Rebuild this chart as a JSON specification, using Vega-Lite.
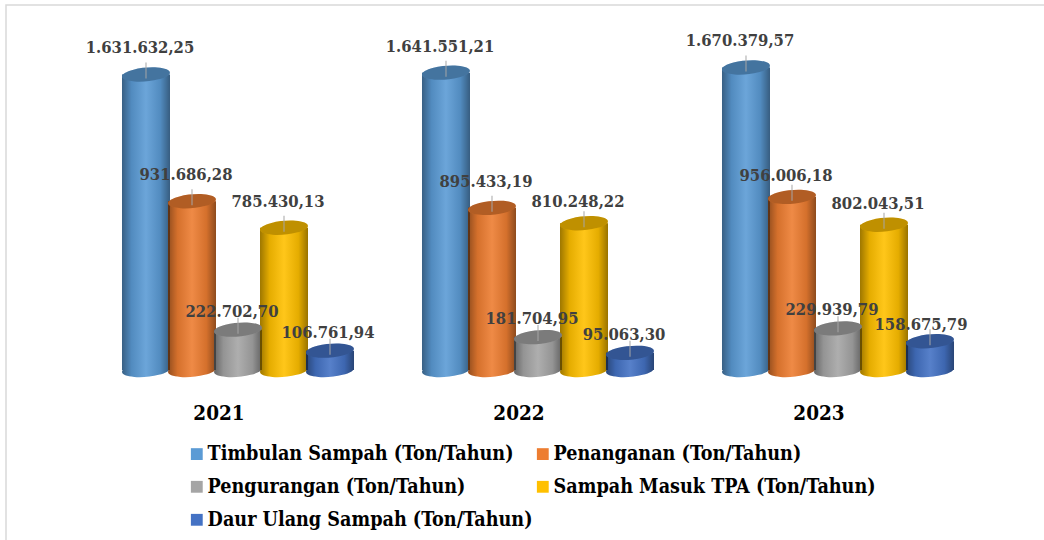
{
"$schema":"https://vega.github.io/schema/vega-lite/v6.json",
"width":1060,"height":560,
"autosize":{"type":"none"},
"padding":{"left":6,"top":5,"right":-22,"bottom":-25},
"background":"white",
"view":{"stroke":"#D9D9D9","strokeWidth":1.5},
"config":{"font":"DejaVu Serif Condensed"},
"data":{"values":[
{"year":"2021","series":"Timbulan Sampah (Ton/Tahun)","value":1631632.25,"label":"1.631.632,25"},
{"year":"2021","series":"Penanganan (Ton/Tahun)","value":931686.28,"label":"931.686,28"},
{"year":"2021","series":"Pengurangan (Ton/Tahun)","value":222702.70,"label":"222.702,70"},
{"year":"2021","series":"Sampah Masuk TPA (Ton/Tahun)","value":785430.13,"label":"785.430,13"},
{"year":"2021","series":"Daur Ulang Sampah (Ton/Tahun)","value":106761.94,"label":"106.761,94"},
{"year":"2022","series":"Timbulan Sampah (Ton/Tahun)","value":1641551.21,"label":"1.641.551,21"},
{"year":"2022","series":"Penanganan (Ton/Tahun)","value":895433.19,"label":"895.433,19"},
{"year":"2022","series":"Pengurangan (Ton/Tahun)","value":181704.95,"label":"181.704,95"},
{"year":"2022","series":"Sampah Masuk TPA (Ton/Tahun)","value":810248.22,"label":"810.248,22"},
{"year":"2022","series":"Daur Ulang Sampah (Ton/Tahun)","value":95063.30,"label":"95.063,30"},
{"year":"2023","series":"Timbulan Sampah (Ton/Tahun)","value":1670379.57,"label":"1.670.379,57"},
{"year":"2023","series":"Penanganan (Ton/Tahun)","value":956006.18,"label":"956.006,18"},
{"year":"2023","series":"Pengurangan (Ton/Tahun)","value":229939.79,"label":"229.939,79"},
{"year":"2023","series":"Sampah Masuk TPA (Ton/Tahun)","value":802043.51,"label":"802.043,51"},
{"year":"2023","series":"Daur Ulang Sampah (Ton/Tahun)","value":158675.79,"label":"158.675,79"}
]},
"encoding":{
"x":{"field":"year","type":"nominal","scale":{"range":[82,982],"paddingInner":0.2333,"paddingOuter":0.11665},
"axis":{"title":null,"domain":false,"ticks":false,"labelAngle":0,"labelOffset":-19,"labelPadding":33,"offset":-195,"labelFontSize":20.5,"labelFontWeight":"bold","labelColor":"#000000","labelFont":"DejaVu Serif Condensed"}},
"xOffset":{"field":"series","type":"nominal","sort":null,"scale":{"domain":["Timbulan Sampah (Ton/Tahun)","Penanganan (Ton/Tahun)","Pengurangan (Ton/Tahun)","Sampah Masuk TPA (Ton/Tahun)","Daur Ulang Sampah (Ton/Tahun)"],"padding":0}},
"y":{"field":"value","type":"quantitative","stack":null,"scale":{"domain":[0,1800000],"range":[365,39]},"axis":null},
"color":{"field":"series","type":"nominal","sort":null,"scale":{"domain":["Timbulan Sampah (Ton/Tahun)","Penanganan (Ton/Tahun)","Pengurangan (Ton/Tahun)","Sampah Masuk TPA (Ton/Tahun)","Daur Ulang Sampah (Ton/Tahun)"],"range":["#5B9BD5","#ED7D31","#A5A5A5","#FFC000","#4472C4"]},
"legend":{"title":null,"orient":"none","legendX":181,"legendY":439,"direction":"horizontal","columns":2,"symbolType":"square","symbolSize":140,"symbolStrokeWidth":0,"labelFontSize":19.6,"labelFontWeight":"bold","labelColor":"#000000","labelFont":"DejaVu Serif Condensed","labelLimit":500,"rowPadding":12,"columnPadding":0,"labelOffset":1,"gridAlign":"each"}}
},
"layer":[
{"mark":{"type":"point","filled":true,"opacity":1,"size":2304,"shape":"M -0.996 0.087 A 1 0.28 -5 1 0 0.996 -0.087 A 1 0.28 -5 1 0 -0.996 0.087 Z"},"encoding":{"y":{"datum":0}}},
{"mark":{"type":"point","filled":true,"opacity":1,"size":2304,"shape":"M -0.996 0.087 A 1 0.28 -5 1 0 0.996 -0.087 A 1 0.28 -5 1 0 -0.996 0.087 Z","fill":{"gradient":"linear","x1":0,"x2":1,"y1":0,"y2":0,"stops":[{"offset":0,"color":"rgba(0,0,0,0.38)"},{"offset":0.2,"color":"rgba(0,0,0,0.1)"},{"offset":0.5,"color":"rgba(255,255,255,0.1)"},{"offset":0.8,"color":"rgba(0,0,0,0.1)"},{"offset":1,"color":"rgba(0,0,0,0.4)"}]}},"encoding":{"y":{"datum":0},"color":{"value":null}}},
{"mark":{"type":"bar","width":48}},
{"mark":{"type":"bar","width":48,"fill":{"gradient":"linear","x1":0,"x2":1,"y1":0,"y2":0,"stops":[{"offset":0,"color":"rgba(0,0,0,0.38)"},{"offset":0.2,"color":"rgba(0,0,0,0.1)"},{"offset":0.5,"color":"rgba(255,255,255,0.1)"},{"offset":0.8,"color":"rgba(0,0,0,0.1)"},{"offset":1,"color":"rgba(0,0,0,0.4)"}]}},"encoding":{"color":{"value":null}}},
{"mark":{"type":"point","filled":true,"opacity":1,"size":2304,"shape":"M -0.996 0.087 A 1 0.28 -5 1 0 0.996 -0.087 A 1 0.28 -5 1 0 -0.996 0.087 Z"}},
{"mark":{"type":"point","filled":true,"opacity":0.25,"size":2304,"fill":"#000000","shape":"M -0.996 0.087 A 1 0.28 -5 1 0 0.996 -0.087 A 1 0.28 -5 1 0 -0.996 0.087 Z"},"encoding":{"color":{"value":null}}},
{"mark":{"type":"tick","orient":"vertical","size":16,"thickness":1,"opacity":1,"yOffset":-4},"encoding":{"color":{"value":"#A6A6A6"}}},
{"transform":[{"filter":"datum.value>=300000 && datum.label!='956.006,18' && datum.label!='810.248,22' && datum.label!='802.043,51'"}],"mark":{"type":"text","fontSize":16.5,"fontWeight":"bold","font":"DejaVu Serif Condensed","dx":-6,"dy":-26},"encoding":{"text":{"field":"label"},"color":{"value":"#404040"}}},
{"transform":[{"filter":"datum.label=='956.006,18' || datum.label=='810.248,22' || datum.label=='802.043,51'"}],"mark":{"type":"text","fontSize":16.5,"fontWeight":"bold","font":"DejaVu Serif Condensed","dx":-6,"dy":-21},"encoding":{"text":{"field":"label"},"color":{"value":"#404040"}}},
{"transform":[{"filter":"datum.value<300000 && datum.label!='106.761,94' && datum.label!='158.675,79'"}],"mark":{"type":"text","fontSize":16.5,"fontWeight":"bold","font":"DejaVu Serif Condensed","dx":-6,"dy":-18},"encoding":{"text":{"field":"label"},"color":{"value":"#404040"}}},
{"transform":[{"filter":"datum.label=='106.761,94'"}],"mark":{"type":"text","fontSize":16.5,"fontWeight":"bold","font":"DejaVu Serif Condensed","dx":-2,"dy":-18},"encoding":{"text":{"field":"label"},"color":{"value":"#404040"}}},
{"transform":[{"filter":"datum.label=='158.675,79'"}],"mark":{"type":"text","fontSize":16.5,"fontWeight":"bold","font":"DejaVu Serif Condensed","dx":-9,"dy":-16},"encoding":{"text":{"field":"label"},"color":{"value":"#404040"}}}
]
}
